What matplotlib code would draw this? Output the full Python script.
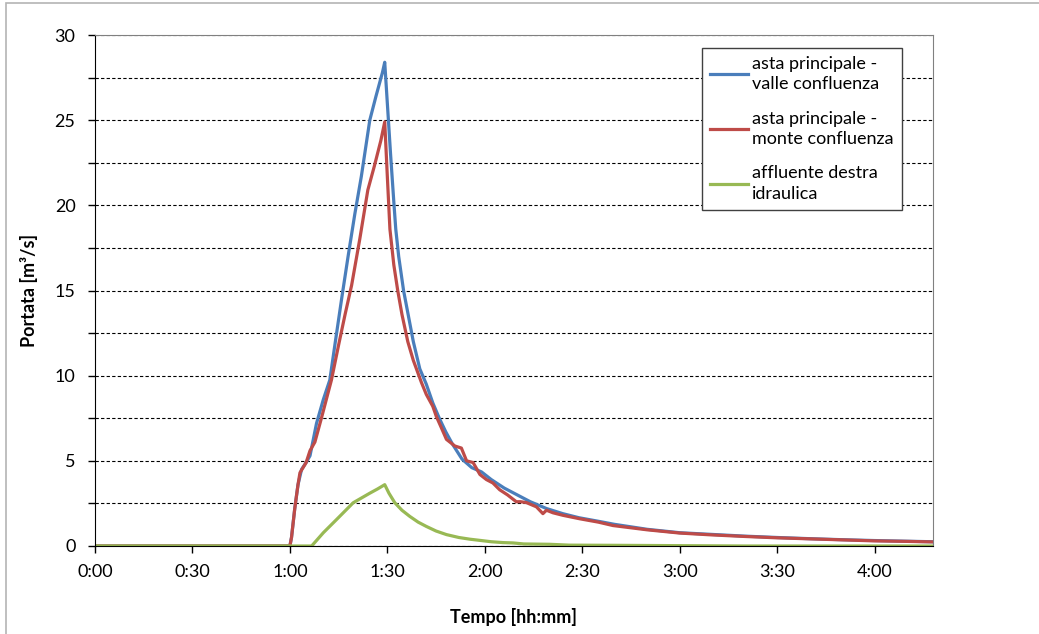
import matplotlib
matplotlib.use('Agg')
import matplotlib.pyplot as plt
from matplotlib.patches import Rectangle
from matplotlib.ticker import FuncFormatter, MultipleLocator

# time in minutes, discharge in m3/s
t_valle = [0, 60, 60.5, 61.5, 62.5, 63.6, 65, 66.2, 68.2, 70.3, 72.3, 74, 76, 78, 80, 82,
           84.6, 86.5, 88.5, 89.2, 90, 91, 92, 92.6, 93.5, 95, 96.5, 98, 100, 102, 104,
           106, 108, 110, 113, 116, 119, 122, 126, 130, 134, 139, 144, 149, 155, 160,
           170, 180, 190, 200, 210, 220, 230, 240, 250, 258]
q_valle = [0, 0, 0.5, 2.2, 3.6, 4.5, 4.9, 5.3, 7.2, 8.6, 9.75, 12.0, 14.6, 17.1, 19.5, 21.7,
           25.0, 26.4, 27.8, 28.4, 26.0, 23.0, 20.2, 18.6, 17.0, 15.0, 13.5, 12.0, 10.4, 9.5, 8.4,
           7.5, 6.7, 6.0, 5.1, 4.6, 4.35, 3.9, 3.4, 3.0, 2.6, 2.2, 1.9, 1.66, 1.45, 1.27,
           0.98, 0.78, 0.68, 0.58, 0.5, 0.43, 0.37, 0.32, 0.28, 0.25]

t_monte = [0, 60, 60.5, 61.5, 62.5, 63.1, 65, 66.2, 67.7, 69.7, 72.8, 75, 77, 79, 81.5, 84,
           86, 88, 89.2, 90, 90.8, 92, 93.2, 94.5, 96.3, 98, 100.5, 102, 104, 105.1, 106.5,
           108.2, 110.8, 112.8, 114.4, 116.4, 118.5, 120.5, 122.5, 124.6, 127, 129.7, 131,
           132.8, 135.9, 137.9, 139, 141, 144.1, 149.2, 155, 159.5, 170, 180, 190, 200,
           210, 220, 230, 240, 250, 258]
q_monte = [0, 0, 0.5, 2.2, 3.6, 4.3, 4.9, 5.6, 6.1, 7.5, 9.75, 11.8, 13.6, 15.3, 18.0, 20.9,
           22.3, 23.8, 24.9, 21.7, 18.6, 16.5, 15.0, 13.6, 12.0, 10.9, 9.6, 8.9, 8.2, 7.6, 7.0,
           6.26, 5.87, 5.75, 5.0, 4.9, 4.2, 3.9, 3.7, 3.3, 3.0, 2.6, 2.6,
           2.55, 2.3, 1.9, 2.1, 1.95, 1.8, 1.6, 1.4, 1.2, 0.95, 0.76, 0.65, 0.56,
           0.48, 0.42, 0.36, 0.3, 0.27, 0.24]

t_affl = [0, 66.7, 70.3, 74.4, 79.5, 84.6, 87, 89.2, 90.5, 92.3, 94.5, 96.9, 99.5, 102, 105,
          108.2, 112, 115.4, 118.5, 122, 125.6, 128.7, 132, 140, 146, 160, 180, 200, 220,
          240, 258]
q_affl = [0, 0, 0.78, 1.56, 2.54, 3.1, 3.35, 3.6, 3.1, 2.54, 2.1, 1.74, 1.4, 1.15, 0.88,
          0.67, 0.5, 0.4, 0.33, 0.25, 0.2, 0.18, 0.12, 0.1, 0.05, 0.04, 0.02, 0.0, 0.0,
          0.0, 0.0]

labels = ['asta principale -\nvalle confluenza',
          'asta principale -\nmonte confluenza',
          'affluente destra\nidraulica']
colors = ['#4A7EBB', '#BE4B48', '#98B954']

plt.rcParams['font.family'] = ['Lato', 'DejaVu Sans']

fig = plt.figure(figsize=(10.39, 6.34), dpi=100)
ax = fig.add_axes([95 / 1039, 1 - 546 / 634, (933 - 95) / 1039, (546 - 35) / 634])

# outer chart frame (right/bottom edges fall outside the picture)
fig.add_artist(Rectangle((6 / 1039, -0.5), 2.0, 1.5 - 3 / 634, transform=fig.transFigure,
                         fill=False, edgecolor='#b4b4b4', lw=1.2, clip_on=False))

for t, q, c, lab in zip([t_valle, t_monte, t_affl], [q_valle, q_monte, q_affl], colors, labels):
    ax.plot(t, q, color=c, lw=2.3, label=lab, solid_joinstyle='round')

ax.set_xlim(0, 258)
ax.set_ylim(0, 30)
ax.xaxis.set_major_locator(MultipleLocator(30))
ax.xaxis.set_major_formatter(FuncFormatter(lambda v, p: '%d:%02d' % (int(v) // 60, int(v) % 60)))
ax.yaxis.set_major_locator(MultipleLocator(5))
ax.yaxis.set_minor_locator(MultipleLocator(2.5))

ax.grid(True, axis='y', which='both', color='black', linestyle=(0, (3, 2)), lw=0.8)
ax.set_axisbelow(True)

ax.tick_params(axis='both', which='both', direction='out', length=5, width=1, labelsize=13)
ax.tick_params(axis='x', pad=8)
ax.tick_params(axis='y', pad=9)

for s in ['left', 'bottom']:
    ax.spines[s].set_color('black')
for s in ['top', 'right']:
    ax.spines[s].set_color('#808080')

ax.set_xlabel('Tempo [hh:mm]', fontsize=13, fontweight='bold', labelpad=20)
ax.set_ylabel('Portata [m³/s]', fontsize=13, fontweight='bold', labelpad=12)

leg = ax.legend(loc='upper right', bbox_to_anchor=(0.963, 0.975), borderaxespad=0,
                fontsize=13, fancybox=False, framealpha=1, edgecolor='#404040',
                handlelength=2.1, handletextpad=0.25, labelspacing=1.0, borderpad=0.45)
leg.get_frame().set_linewidth(1)
for txt in leg.get_texts():
    txt.set_linespacing(1.35)

fig.savefig('out.png', dpi=100)
